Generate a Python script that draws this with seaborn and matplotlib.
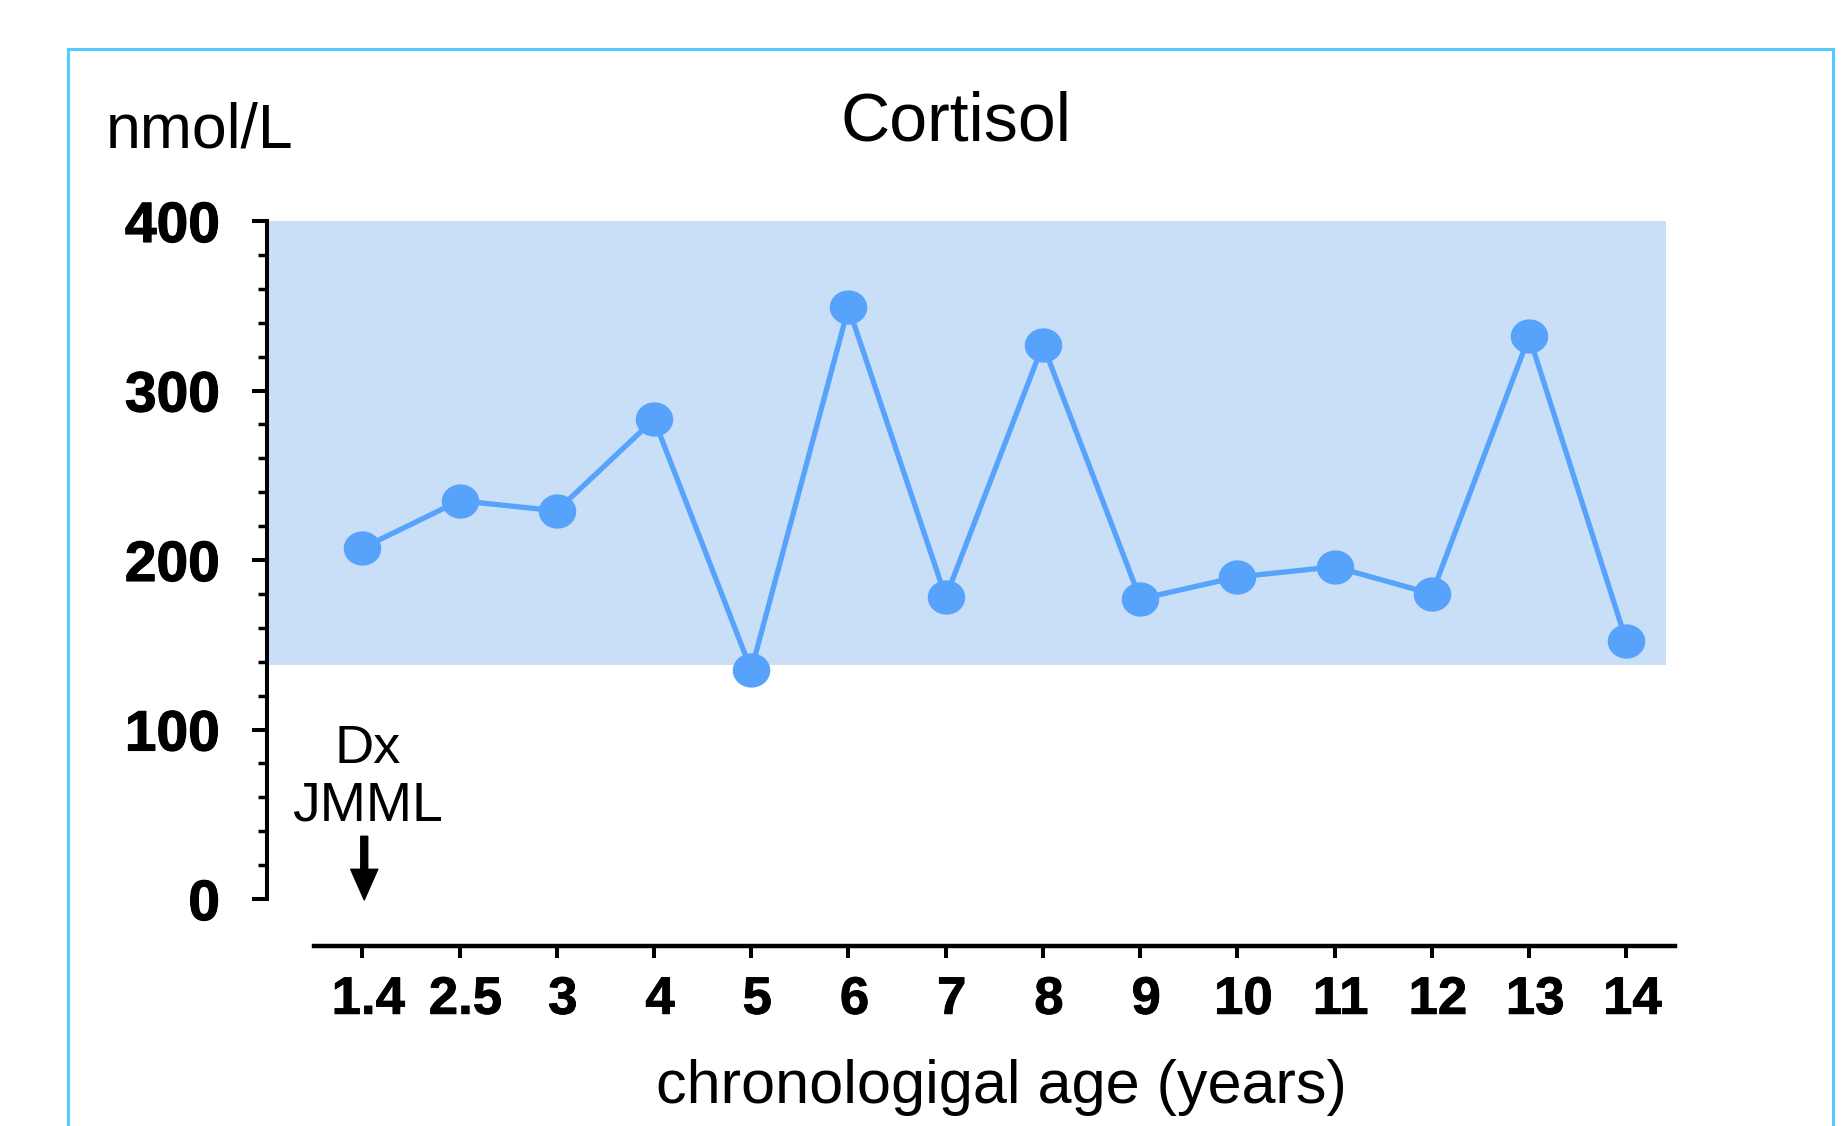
import numpy as np
import pandas as pd
import matplotlib
matplotlib.use("Agg")
import matplotlib.pyplot as plt
import matplotlib.transforms as mtransforms
import matplotlib.patheffects as pe
from matplotlib.path import Path
from matplotlib.patches import Rectangle
from matplotlib.ticker import MultipleLocator
import seaborn as sns

# ---- data ----
age_labels = ["1.4", "2.5", "3", "4", "5", "6", "7", "8", "9", "10", "11", "12", "13", "14"]
cortisol = [207, 235, 229, 283, 135, 349, 178, 327, 177, 190, 196, 180, 332, 152]
ref_low, ref_high = 138, 400
y_ticks = [0, 100, 200, 300, 400]

sns.set_theme(style="ticks")
plt.rcParams["font.family"] = ["Liberation Sans", "DejaVu Sans"]

W, H = 1846, 1126
fig = plt.figure(figsize=(W / 100, H / 100), dpi=100)
fig.patch.set_facecolor("white")

# axes placement (pixels from left / from bottom)
ax = fig.add_axes([267 / W, 227 / H, (1675 - 267) / W, 678 / H])
ax.set_facecolor("white")

df = pd.DataFrame({"pos": np.arange(len(age_labels)), "age": age_labels, "cortisol": cortisol})

# reference band
xl, xr = -0.98, 13.5
ax.set_xlim(xl, xr)
ax.set_ylim(0, 400)
ax.axhspan(ref_low, ref_high, xmin=0, xmax=(13.41 - xl) / (xr - xl), color="#C9DEF7", lw=0, zorder=0)

# elliptical marker
t = np.linspace(0, 2 * np.pi, 60)
ell = Path(np.column_stack([17.5 * np.cos(t), 16 * np.sin(t)]), closed=True)

sns.lineplot(data=df, x="pos", y="cortisol", ax=ax, color="#57A3FB", linewidth=3.8,
             marker=ell, markersize=27, markeredgewidth=0, markerfacecolor="#57A3FB",
             zorder=3, clip_on=False)

# axes styling
sns.despine(ax=ax)
ax.spines["left"].set_linewidth(2.9)
ax.spines["bottom"].set_linewidth(3.2)
ax.spines["left"].set_color("black")
ax.spines["bottom"].set_color("black")
ax.spines["bottom"].set_position(("outward", 34))
ax.spines["bottom"].set_bounds(-0.5, 13.5)

ax.set_yticks(y_ticks)
ax.yaxis.set_minor_locator(MultipleLocator(20))
ax.tick_params(axis="y", which="major", length=10.8, width=2.9, color="black", pad=23,
               labelsize=41, labelcolor="black")
ax.tick_params(axis="y", which="minor", length=6.5, width=2.5, color="black")
for lab in ax.get_yticklabels():
    lab.set_fontweight("bold")
    lab.set_path_effects([pe.withStroke(linewidth=0.8, foreground="black")])

ax.set_xticks(df["pos"])
ax.set_xticklabels(age_labels, fontweight="bold")
ax.tick_params(axis="x", which="major", length=8.6, width=2.9, color="black", pad=12,
               labelsize=38, labelcolor="black")
ax.tick_params(axis="x", which="minor", length=0)
shift = mtransforms.ScaledTranslation(6 / 100, 0, fig.dpi_scale_trans)
for lab in ax.get_xticklabels():
    lab.set_transform(lab.get_transform() + shift)
    lab.set_path_effects([pe.withStroke(linewidth=0.6, foreground="black")])
ax.set_xlabel("")
ax.set_ylabel("")

# annotation: Dx JMML with arrow
ax.text(0.06, 80, "Dx", ha="center", va="baseline", fontsize=39, color="black")
ax.text(0.05, 46.5, "JMML", ha="center", va="baseline", fontsize=40, color="black")
ax.annotate("", xy=(0.02, -0.5), xytext=(0.02, 37),
            arrowprops=dict(facecolor="black", edgecolor="black", width=5, headwidth=19.5,
                            headlength=22, shrink=0), annotation_clip=False)

# titles / labels in figure pixel coordinates
fig.text(956 / W, 1 - 141 / H, "Cortisol", ha="center", va="baseline", fontsize=49, color="black")
fig.text(106 / W, 1 - 147 / H, "nmol/L", ha="left", va="baseline", fontsize=45, color="black")
fig.text(1001 / W, 1 - 1103 / H, "chronologigal age (years)", ha="center", va="baseline",
         fontsize=44, color="black")

# outer frame
fig.patches.append(Rectangle((68 / W, -0.05), (1833 - 68) / W, (1 - 49 / H) + 0.05,
                             transform=fig.transFigure, fill=False, edgecolor="#55CCFF",
                             linewidth=2.2, zorder=0))

fig.savefig("out.png", dpi=100)
